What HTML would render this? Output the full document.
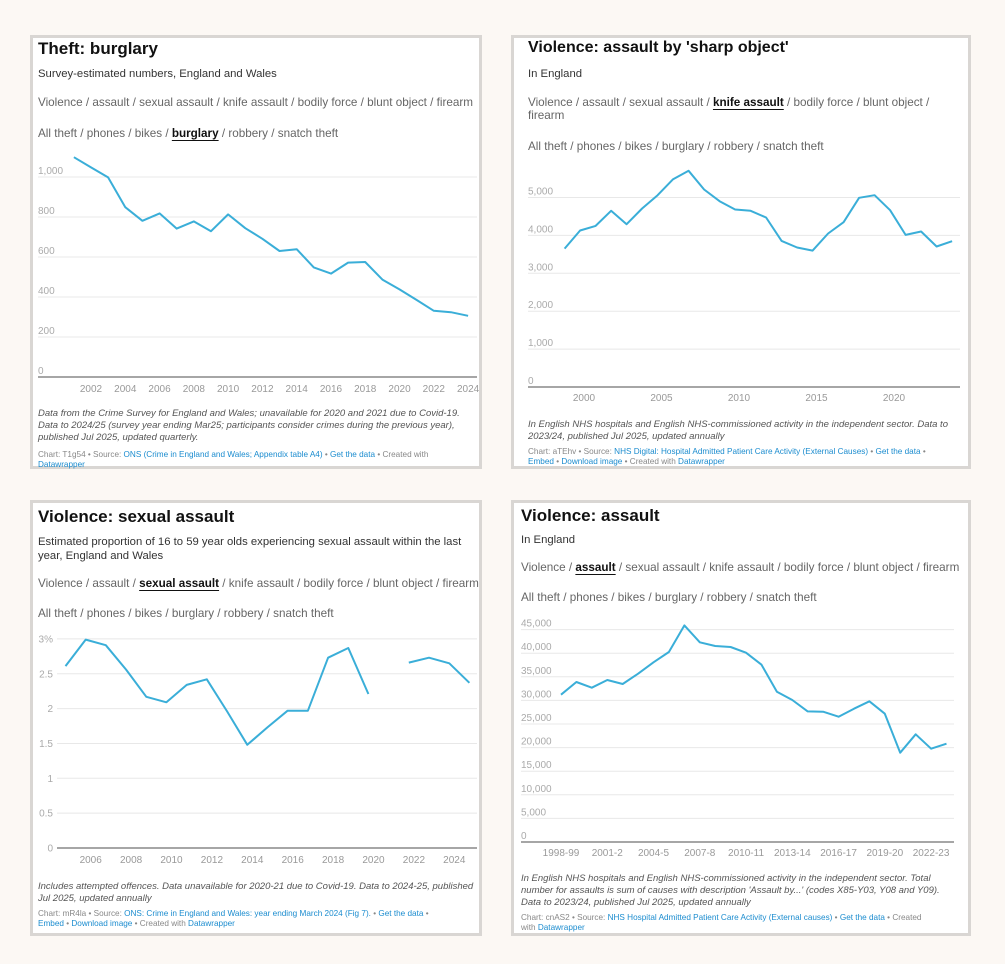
<!DOCTYPE html>
<html><head><meta charset="utf-8">
<style>
body{margin:0;width:1005px;height:964px;background:#fcf8f4;position:relative;overflow:hidden;font-family:"Liberation Sans",sans-serif;}
.panel{position:absolute;background:#fff;border:3px solid #d9d6d3;box-sizing:border-box;}
.t{position:absolute;white-space:nowrap;}
.title{font-size:17px;font-weight:bold;color:#111;}
.sub{font-size:11.3px;color:#333;}
.nav{font-size:11.7px;color:#666;}
.nav b{color:#111;text-decoration:underline;text-underline-offset:3px;}
.note{font-size:9.5px;font-style:italic;color:#555;line-height:12px;}
.src{font-size:8.2px;color:#888;line-height:10px;}
.src a{color:#1b8ccf;text-decoration:none;}
svg{position:absolute;left:0;top:0;}
</style></head><body>
<div class="panel" style="left:30px;top:35px;width:452px;height:434px"></div>
<div class="panel" style="left:511px;top:35px;width:460px;height:434px"></div>
<div class="panel" style="left:30px;top:500px;width:452px;height:436px"></div>
<div class="panel" style="left:511px;top:500px;width:460px;height:436px"></div>

<!-- Panel 1 text -->
<div class="t title" style="left:38px;top:39px">Theft: burglary</div>
<div class="t sub" style="left:38px;top:68px">Survey-estimated numbers, England and Wales</div>
<div class="t nav" style="left:38px;top:96px">Violence / assault / sexual assault / knife assault / bodily force / blunt object / firearm</div>
<div class="t nav" style="left:38px;top:127px">All theft / phones / bikes / <b>burglary</b> / robbery / snatch theft</div>
<div class="t note" style="left:38px;top:408px">Data from the Crime Survey for England and Wales; unavailable for 2020 and 2021 due to Covid-19.<br>Data to 2024/25 (survey year ending Mar25; participants consider crimes during the previous year),<br>published Jul 2025, updated quarterly.</div>
<div class="t src" style="left:38px;top:450px">Chart: T1g54 • Source: <a>ONS (Crime in England and Wales; Appendix table A4)</a> • <a>Get the data</a> • Created with<br><a>Datawrapper</a></div>

<!-- Panel 2 text -->
<div class="t title" style="left:528px;top:39px;font-size:16px">Violence: assault by 'sharp object'</div>
<div class="t sub" style="left:528px;top:68px">In England</div>
<div class="t nav" style="left:528px;top:96px;line-height:13px">Violence / assault / sexual assault / <b>knife assault</b> / bodily force / blunt object /<br>firearm</div>
<div class="t nav" style="left:528px;top:140px">All theft / phones / bikes / burglary / robbery / snatch theft</div>
<div class="t note" style="left:528px;top:419px">In English NHS hospitals and English NHS-commissioned activity in the independent sector. Data to<br>2023/24, published Jul 2025, updated annually</div>
<div class="t src" style="left:528px;top:447px">Chart: aTEhv • Source: <a>NHS Digital: Hospital Admitted Patient Care Activity (External Causes)</a> • <a>Get the data</a> •<br><a>Embed</a> • <a>Download image</a> • Created with <a>Datawrapper</a></div>

<!-- Panel 3 text -->
<div class="t title" style="left:38px;top:507px">Violence: sexual assault</div>
<div class="t sub" style="left:38px;top:535px;line-height:14px">Estimated proportion of 16 to 59 year olds experiencing sexual assault within the last<br>year, England and Wales</div>
<div class="t nav" style="left:38px;top:577px">Violence / assault / <b>sexual assault</b> / knife assault / bodily force / blunt object / firearm</div>
<div class="t nav" style="left:38px;top:607px">All theft / phones / bikes / burglary / robbery / snatch theft</div>
<div class="t note" style="left:38px;top:881px">Includes attempted offences. Data unavailable for 2020-21 due to Covid-19. Data to 2024-25, published<br>Jul 2025, updated annually</div>
<div class="t src" style="left:38px;top:909px">Chart: mR4la • Source: <a>ONS: Crime in England and Wales: year ending March 2024 (Fig 7).</a> • <a>Get the data</a> •<br><a>Embed</a> • <a>Download image</a> • Created with <a>Datawrapper</a></div>

<!-- Panel 4 text -->
<div class="t title" style="left:521px;top:506px">Violence: assault</div>
<div class="t sub" style="left:521px;top:534px">In England</div>
<div class="t nav" style="left:521px;top:561px">Violence / <b>assault</b> / sexual assault / knife assault / bodily force / blunt object / firearm</div>
<div class="t nav" style="left:521px;top:591px">All theft / phones / bikes / burglary / robbery / snatch theft</div>
<div class="t note" style="left:521px;top:873px">In English NHS hospitals and English NHS-commissioned activity in the independent sector. Total<br>number for assaults is sum of causes with description 'Assault by...' (codes X85-Y03, Y08 and Y09).<br>Data to 2023/24, published Jul 2025, updated annually</div>
<div class="t src" style="left:521px;top:913px">Chart: cnAS2 • Source: <a>NHS Hospital Admitted Patient Care Activity (External causes)</a> • <a>Get the data</a> • Created<br>with <a>Datawrapper</a></div>

<svg id="chart" width="1005" height="964"></svg>
<script>
// Burglary (thousands), years 2001-2024
const burglaryYears = [2001,2002,2003,2004,2005,2006,2007,2008,2009,2010,2011,2012,2013,2014,2015,2016,2017,2018,2019,2020,2021,2022,2023,2024];
const burglaryValues = [1099,1048,998,849,781,818,742,778,729,813,744,691,630,639,548,517,572,575,487,438,385,331,324,306];
const burglaryYTicks = [0,200,400,600,800,1000];
const burglaryXTicks = [2002,2004,2006,2008,2010,2012,2014,2016,2018,2020,2022,2024];
// Sharp object, fiscal year start 1998-2023
const sharpYears = [1998,1999,2000,2001,2002,2003,2004,2005,2006,2007,2008,2009,2010,2011,2012,2013,2014,2015,2016,2017,2018,2019,2020,2021,2022,2023];
const sharpValues = [3653,4128,4251,4648,4296,4710,5062,5484,5704,5211,4903,4683,4648,4472,3856,3680,3600,4049,4349,4991,5062,4665,4014,4102,3706,3847];
const sharpYTicks = [0,1000,2000,3000,4000,5000];
const sharpXTicks = [2000,2005,2010,2015,2020];
// Sexual assault %, fiscal year start 2004-2024
const sexualYears = [2004,2005,2006,2007,2008,2009,2010,2011,2012,2013,2014,2015,2016,2017,2018,2019,2020,2021,2022,2023,2024];
const sexualValues = [2.61,2.99,2.91,2.56,2.17,2.09,2.34,2.42,1.96,1.48,1.73,1.97,1.97,2.73,2.87,2.21,null,2.66,2.73,2.65,2.37];
const sexualYTicks = [0,0.5,1,1.5,2,2.5,3];
const sexualYLabels = ["0","0.5","1","1.5","2","2.5","3%"];
const sexualXTicks = [2006,2008,2010,2012,2014,2016,2018,2020,2022,2024];
// Assault, fiscal years 1998-99 .. 2023-24
const assaultYears = [1998,1999,2000,2001,2002,2003,2004,2005,2006,2007,2008,2009,2010,2011,2012,2013,2014,2015,2016,2017,2018,2019,2020,2021,2022,2023];
const assaultValues = [31215,33900,32700,34320,33470,35660,38070,40250,45900,42300,41530,41310,40110,37570,31850,30080,27680,27610,26550,28250,29800,27190,18930,22810,19770,20830];
const assaultYTicks = [0,5000,10000,15000,20000,25000,30000,35000,40000,45000];
const assaultXTicks = ["1998-99","2001-2","2004-5","2007-8","2010-11","2013-14","2016-17","2019-20","2022-23"];

const NS="http://www.w3.org/2000/svg";
const svg=document.getElementById('chart');
function mk(tag,attrs,text){const e=document.createElementNS(NS,tag);for(const k in attrs)e.setAttribute(k,attrs[k]);if(text!==undefined)e.textContent=text;svg.appendChild(e);return e;}
const fmt=v=>v.toLocaleString('en-GB');

function drawChart(o){
  o.yTicks.forEach((v,i)=>{
    const y=o.ys(v);
    if(v!==0){const g=mk('line',{x1:o.gx1,x2:o.gx2,y1:y,y2:y,stroke:'#e8e8e8','stroke-width':1});
      
      }
    const lab=o.yLabels?o.yLabels[i]:fmt(v);
    const t=mk('text',{x:o.lx,y:o.labelAbove?y-3:y+3.5,'font-size':10,fill:'#aaa','font-family':'Liberation Sans, sans-serif','text-anchor':o.labelAbove?'start':'end'},lab);
    
    
  });
  const b=mk('line',{x1:o.gx1,x2:o.gx2,y1:o.ys(0),y2:o.ys(0),stroke:'#888','stroke-width':1.5});
  
  
  o.xTicks.forEach((lab,i)=>{
    const t=mk('text',{x:o.xtick(lab,i),y:o.xLabY,'font-size':10,fill:'#999','font-family':'Liberation Sans, sans-serif','text-anchor':'middle'},String(lab));
    
    
  });
  let d='',pen=false;
  o.values.forEach((v,i)=>{
    if(v===null){pen=false;return;}
    d+=(pen?'L':'M')+o.xs(o.cats[i]).toFixed(1)+','+o.ys(v).toFixed(1);pen=true;
  });
  const p=mk('path',{d:d,fill:'none',stroke:'#3aaed8','stroke-width':2,'stroke-linejoin':'round'});
  
  
}

drawChart({name:'burglary-line',cats:burglaryYears,values:burglaryValues,yTicks:burglaryYTicks,xTicks:burglaryXTicks,
  xs:y=>91+(y-2002)*17.14, ys:v=>377-v*0.2, gx1:38,gx2:477,lx:38,labelAbove:true,xLabY:392,
  xtick:(l)=>91+(l-2002)*17.14});
drawChart({name:'sharp-object-line',cats:sharpYears,values:sharpValues,yTicks:sharpYTicks,xTicks:sharpXTicks,
  xs:y=>584+(y+0.75-2000)*15.5, ys:v=>387-v*0.0379, gx1:528,gx2:960,lx:528,labelAbove:true,xLabY:401,
  xtick:(l)=>584+(l-2000)*15.5});
drawChart({name:'sexual-assault-line',cats:sexualYears,values:sexualValues,yTicks:sexualYTicks,yLabels:sexualYLabels,xTicks:sexualXTicks,
  xs:y=>90.7+(y+0.75-2006)*20.2, ys:v=>848-v*69.7, gx1:57,gx2:477,lx:53,labelAbove:false,xLabY:863,
  xtick:(l)=>90.7+(l-2006)*20.2});
drawChart({name:'assault-line',cats:assaultYears,values:assaultValues,yTicks:assaultYTicks,xTicks:assaultXTicks,
  xs:y=>561+(y-1998)*15.42, ys:v=>842-v*0.00472, gx1:521,gx2:954,lx:521,labelAbove:true,xLabY:856,
  xtick:(l,i)=>561+i*3*15.42});
</script>
</body></html>
